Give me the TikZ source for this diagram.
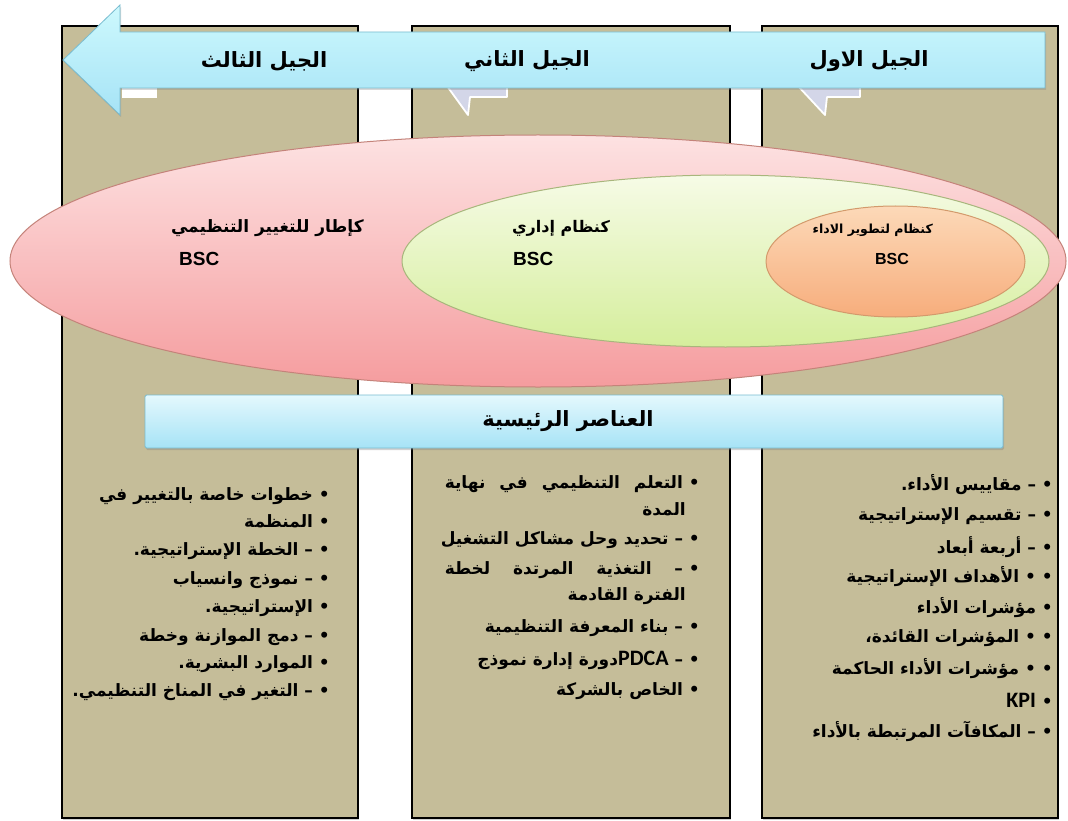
\documentclass[tikz,border=0pt]{standalone}
\usepackage{fontspec}
\usetikzlibrary{shadows}
\TeXXeTstate=1
\setmainfont{Liberation Sans}
\newfontfamily\arabicfont[Script=Arabic]{DejaVu Sans}
\newfontfamily\latinfont{Carlito}
\definecolor{coltan}{HTML}{C5BD99}
\definecolor{pinktop}{HTML}{FDE2E2}
\definecolor{pinkbot}{HTML}{F59C9E}
\definecolor{pinkline}{HTML}{C4837A}
\definecolor{greentop}{HTML}{F6FBE6}
\definecolor{greenbot}{HTML}{D5EE9C}
\definecolor{greenline}{HTML}{A8B67C}
\definecolor{orangetop}{HTML}{FCD9B8}
\definecolor{orangebot}{HTML}{F7AD7C}
\definecolor{orangeline}{HTML}{D39A6C}
\definecolor{bluetop}{HTML}{E4F8FD}
\definecolor{bluebot}{HTML}{A6E3F6}
\definecolor{blueline}{HTML}{78BCD0}
\definecolor{tailfill}{HTML}{D3D6E8}
\tikzset{
  colbox/.style={fill=coltan, draw=black, line width=2.6pt,
    drop shadow={opacity=0.35, shadow xshift=1pt, shadow yshift=-2pt}},
  pinkell/.style={top color=pinktop, bottom color=pinkbot, draw=pinkline, line width=1pt},
  greenell/.style={top color=greentop, bottom color=greenbot, draw=greenline, line width=1pt},
  orangeell/.style={top color=orangetop, bottom color=orangebot, draw=orangeline, line width=1pt},
  bluefill/.style={top color=bluetop, bottom color=bluebot, draw=blueline, line width=0.8pt,
    drop shadow={opacity=0.35, shadow xshift=1pt, shadow yshift=-2pt}},
  tail/.style={fill=tailfill, draw=white, line width=1.8pt, line join=round},
  gen/.style={inner sep=0pt, font=\arabicfont\bfseries\fontsize{21}{24}\selectfont},
  ell/.style={inner sep=0pt, font=\arabicfont\bfseries\fontsize{17}{20}\selectfont},
  bsc/.style={inner sep=0pt, font=\bfseries\fontsize{19}{22}\selectfont},
  rline/.style={anchor=east, inner sep=0pt, font=\arabicfont\bfseries\fontsize{17}{20}\selectfont},
  latin/.style={},
}
\newcommand{\lat}[1]{{\latinfont\bfseries\fontsize{22}{24}\selectfont\beginL #1\endL}}
\begin{document}
\begin{tikzpicture}[x=1pt,y=-1pt]
\useasboundingbox (0,0) rectangle (1068,821);
\fill[white] (0,0) rectangle (1068,821);
% columns
\draw[colbox] (62,26) rectangle (358,818);
\draw[colbox] (412,26) rectangle (730,818);
\draw[colbox] (762,26) rectangle (1058,818);
% callout tails
\fill[white] (122,86) rectangle (157,98);
\draw[tail] (447,86) -- (468,115) -- (470,97) -- (507,97) -- (507,86);
\draw[tail] (798,86) -- (825,115) -- (827,97) -- (860,97) -- (860,86);
% arrow
\draw[top color=bluetop!90!cyan, bottom color=bluebot, draw=blueline, line width=0.8pt, line join=miter,
  drop shadow={opacity=0.3, shadow xshift=1pt, shadow yshift=-2pt}]
  (63,60) -- (120,5) -- (120,32) -- (1045,32) -- (1045,88) -- (120,88) -- (120,115) -- cycle;
\node[gen] (g3) at (264,61) {\beginR الجيل الثالث\endR};
\node[gen] (g2) at (527,61) {\beginR الجيل الثاني\endR};
\node[gen] (g1) at (869,61) {\beginR الجيل الاول\endR};
% ellipses
\draw[pinkell] (538,261) ellipse [x radius=528pt, y radius=126pt];
\draw[greenell] (725.5,261) ellipse [x radius=323.5pt, y radius=86pt];
\draw[orangeell] (895.5,261.5) ellipse [x radius=129.5pt, y radius=55.5pt];
\node[ell, anchor=east] (e3) at (364,228) {\beginR كإطار للتغيير التنظيمي\endR};
\node[bsc, anchor=west] (b3) at (179,259) {BSC};
\node[ell, anchor=east, font=\arabicfont\bfseries\fontsize{16}{19}\selectfont] (e2) at (610,228) {\beginR كنظام إداري\endR};
\node[bsc, anchor=west] (b2) at (513,259) {BSC};
\node[ell, anchor=east, font=\arabicfont\bfseries\fontsize{12.5}{15}\selectfont] (e1) at (933,230) {\beginR كنظام لتطوير الاداء\endR};
\node[bsc, font=\bfseries\fontsize{16}{19}\selectfont] (b1) at (892,259) {BSC};
% bar
\draw[bluefill, rounded corners=1.5pt] (145,395) rectangle (1003,448);
\node[gen] (bar) at (568,421) {\beginR العناصر الرئيسية\endR};
% right column list
\node[rline] (r1) at (1053,485) {\beginR • – مقاييس الأداء.\endR};
\node[rline] (r2) at (1053,516) {\beginR • – تقسيم الإستراتيجية\endR};
\node[rline] (r3) at (1053,547) {\beginR • – أربعة أبعاد\endR};
\node[rline] (r4) at (1053,577) {\beginR • • الأهداف الإستراتيجية\endR};
\node[rline] (r5) at (1053,608) {\beginR • مؤشرات الأداء\endR};
\node[rline] (r6) at (1053,638) {\beginR • • المؤشرات القائدة،\endR};
\node[rline] (r7) at (1053,669) {\beginR • • مؤشرات الأداء الحاكمة\endR};
\node[rline] (r8) at (1053,700) {\beginR • \lat{KPI}\endR};
\node[rline] (r9) at (1053,731) {\beginR • – المكافآت المرتبطة بالأداء\endR};
% middle column list
\node[rline] (m1) at (700,484) {\hbox to 255pt{\beginR •~التعلم\hfill التنظيمي\hfill في\hfill نهاية\endR}};
\node[rline] (m2) at (686,509) {\beginR المدة\endR};
\node[rline] (m3) at (700,540) {\beginR • – تحديد وحل مشاكل التشغيل\endR};
\node[rline] (m4) at (700,570) {\hbox to 255pt{\beginR •~–\hfill التغذية\hfill المرتدة\hfill لخطة\endR}};
\node[rline] (m5) at (686,596) {\beginR الفترة القادمة\endR};
\node[rline] (m6) at (700,628) {\beginR • – بناء المعرفة التنظيمية\endR};
\node[rline] (m7) at (700,660) {\beginR • – \lat{PDCA}دورة إدارة نموذج\endR};
\node[rline] (m8) at (700,691) {\beginR • الخاص بالشركة\endR};
% left column list
\node[rline] (l1) at (330,496) {\beginR • خطوات خاصة بالتغيير في\endR};
\node[rline] (l2) at (330,521) {\beginR • المنظمة\endR};
\node[rline] (l3) at (330,551) {\beginR • – الخطة الإستراتيجية.\endR};
\node[rline] (l4) at (330,580) {\beginR • – نموذج وانسياب\endR};
\node[rline] (l5) at (330,608) {\beginR • الإستراتيجية.\endR};
\node[rline] (l6) at (330,637) {\beginR • – دمج الموازنة وخطة\endR};
\node[rline] (l7) at (330,664) {\beginR • الموارد البشرية.\endR};
\node[rline] (l8) at (330,692) {\beginR • – التغير في المناخ التنظيمي.\endR};
\end{tikzpicture}
\end{document}
